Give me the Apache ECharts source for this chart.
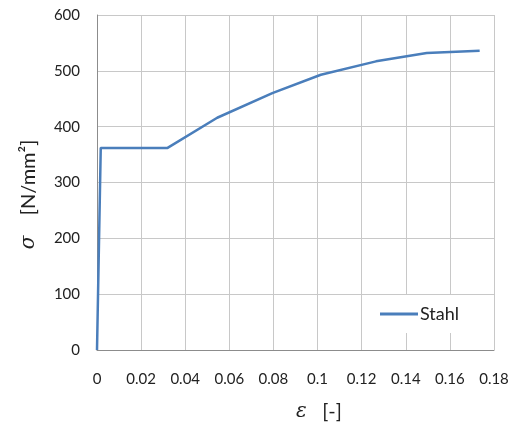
<!DOCTYPE html>
<html>
<head>
<meta charset="utf-8">
<script src="https://cdn.jsdelivr.net/npm/echarts@6/dist/echarts.min.js"></script>
<style>html,body{margin:0;padding:0;background:#fff}#c{width:520px;height:426px}</style>
</head>
<body>
<div id="c"></div>
<script>
var seriesName = 'Stahl';
var strain = [0, 0.0017, 0.032, 0.0545, 0.0795, 0.1015, 0.1265, 0.1495, 0.1735];
var stress = [0, 362, 362, 416, 460, 493, 517, 532, 536];
var xTicks = [0, 0.02, 0.04, 0.06, 0.08, 0.1, 0.12, 0.14, 0.16, 0.18];
var yTicks = [0, 100, 200, 300, 400, 500, 600];

var font = 'Lato, "Open Sans", sans-serif';
var chart = echarts.init(document.getElementById('c'), null, {renderer: 'canvas'});
chart.setOption({
  animation: false,
  backgroundColor: '#fff',
  grid: {left: 97, top: 15, right: 26, bottom: 76, containLabel: false, outerBoundsMode: 'none'},
  xAxis: {
    type: 'value', min: xTicks[0], max: xTicks[xTicks.length - 1], interval: 0.02,
    name: '{s|ε}   [-]', nameLocation: 'middle', nameGap: 52,
    nameTextStyle: {fontSize: 20, color: '#222', fontFamily: font, padding: [0, 0, 0, 47],
      rich: {s: {fontSize: 20, fontStyle: 'italic', fontFamily: '"DejaVu Serif", serif', color: '#222'}}},
    axisLine: {show: true, lineStyle: {color: '#8c8c8c', width: 1}},
    axisTick: {show: false},
    axisLabel: {fontSize: 15, color: '#222', fontFamily: font, margin: 22,
      formatter: function (v) { return String(+v.toFixed(2)); }},
    splitLine: {show: true, lineStyle: {color: '#c8c8c8', width: 1}}
  },
  yAxis: {
    type: 'value', min: yTicks[0], max: yTicks[yTicks.length - 1], interval: 100,
    name: '{s|σ}    [N/mm²]', nameLocation: 'middle', nameGap: 58, nameRotate: 90,
    nameTextStyle: {fontSize: 20, color: '#222', fontFamily: font, padding: [0, 24, 0, 0],
      rich: {s: {fontSize: 20, fontStyle: 'italic', fontFamily: '"DejaVu Serif", serif', color: '#222'}}},
    axisLine: {show: true, lineStyle: {color: '#8c8c8c', width: 1}},
    axisTick: {show: false},
    axisLabel: {fontSize: 15, color: '#222', fontFamily: font, margin: 17},
    splitLine: {show: true, lineStyle: {color: '#c8c8c8', width: 1}}
  },
  legend: {
    left: 367, top: 295, data: [seriesName], icon: 'rect',
    itemWidth: 38, itemHeight: 3, itemGap: 4,
    backgroundColor: '#fff', padding: [10, 10, 10, 13],
    textStyle: {fontSize: 18, color: '#222', fontFamily: font, padding: [0, 0, 0, -3]}
  },
  series: [{
    name: seriesName, type: 'line', showSymbol: false, symbol: 'none',
    data: strain.map(function (x, i) { return [x, stress[i]]; }),
    lineStyle: {color: '#4a7ebb', width: 2.5},
    itemStyle: {color: '#4a7ebb'}
  }]
});
</script>
</body>
</html>
